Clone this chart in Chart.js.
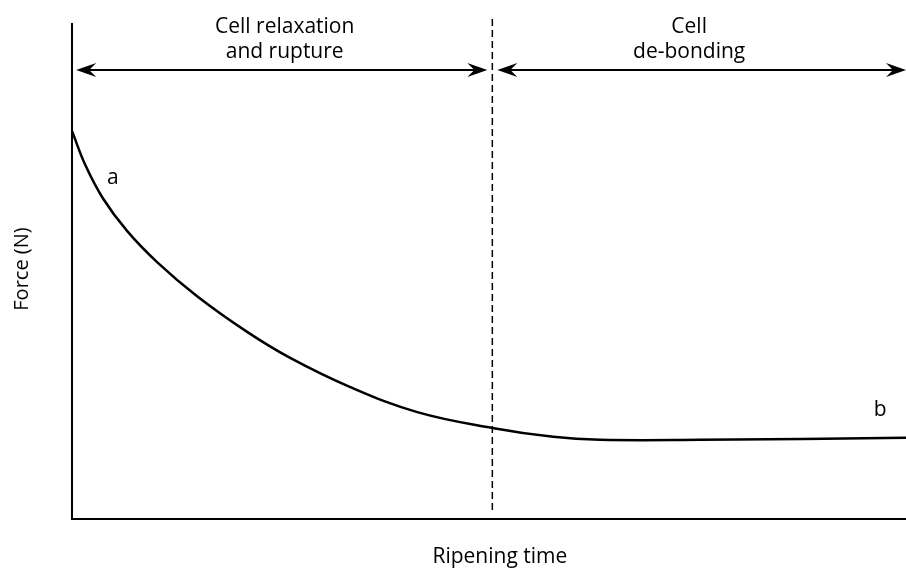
<!DOCTYPE html>
<html>
<head>
<meta charset="utf-8">
<title>Force vs ripening time</title>
<script src="https://cdn.jsdelivr.net/npm/chart.js@4/dist/chart.umd.min.js"></script>
<style>
  html, body { margin: 0; padding: 0; background: #fff; }
  #wrap { width: 906px; height: 574px; }
</style>
</head>
<body>
<div id="wrap"><canvas id="grafico" width="906" height="574"></canvas></div>
<script>
// ripening time (arbitrary units, 0-100) and force (arbitrary units, 0-100)
const ripeningTime = [0, 1.6, 3.7, 6.6, 10.2, 15.0, 21.0, 26.1, 33.3, 41.4, 50.4, 57.7, 63.3, 75.3, 100];
const force = [78.4, 71.5, 64.8, 58.2, 51.9, 45.0, 37.8, 32.6, 26.7, 21.6, 18.4, 16.6, 16.0, 16.0, 16.4];

// end of relaxation/rupture phase, start of de-bonding
const phaseBoundary = 50.4;
const phaseLabels = [["Cell relaxation", "and rupture"], ["Cell", "de-bonding"]];
const curveLabels = ["a", "b"];
const xTitle = "Ripening time";
const yTitle = "Force (N)";

const textFont = '"Open Sans", sans-serif';

function arrowHead(ctx, tx, y, dir) {
    // dir = -1 points left, 1 points right
    const len = 20, hw = 7;
    ctx.beginPath();
    ctx.moveTo(tx, y);
    ctx.lineTo(tx - dir * len, y - hw);
    ctx.lineTo(tx - dir * len * 0.65, y);
    ctx.lineTo(tx - dir * len, y + hw);
    ctx.closePath();
    ctx.fill();
}

const notas = {
    id: "notas",
    afterDatasetsDraw(chart) {
        const ctx = chart.ctx;
        const x = chart.scales.x;
        const y = chart.scales.y;
        const xb = x.getPixelForValue(phaseBoundary);
        const ya = y.getPixelForValue(90.7);

        ctx.save();
        ctx.strokeStyle = "#000";
        ctx.fillStyle = "#000";

        // dashed boundary
        ctx.lineWidth = 1.5;
        ctx.setLineDash([7, 4]);
        ctx.beginPath();
        ctx.moveTo(xb, y.getPixelForValue(101));
        ctx.lineTo(xb, y.getPixelForValue(1.5));
        ctx.stroke();
        ctx.setLineDash([]);

        // double arrows
        const l1 = x.getPixelForValue(0.5);
        const r1 = x.getPixelForValue(phaseBoundary - 0.6);
        const l2 = x.getPixelForValue(phaseBoundary + 0.6);
        const r2 = x.getPixelForValue(100);
        ctx.lineWidth = 2;
        ctx.beginPath();
        ctx.moveTo(l1 + 10, ya);
        ctx.lineTo(r1 - 10, ya);
        ctx.moveTo(l2 + 10, ya);
        ctx.lineTo(r2 - 10, ya);
        ctx.stroke();
        arrowHead(ctx, l1, ya, -1);
        arrowHead(ctx, r1, ya, 1);
        arrowHead(ctx, l2, ya, -1);
        arrowHead(ctx, r2, ya, 1);

        // phase labels
        ctx.font = "21px " + textFont;
        ctx.textAlign = "center";
        ctx.textBaseline = "alphabetic";
        const cx = [x.getPixelForValue(25.5), x.getPixelForValue(74)];
        phaseLabels.forEach((lines, i) => {
            lines.forEach((t, j) => {
                ctx.fillText(t, cx[i], y.getPixelForValue(98.2) + j * 25);
            });
        });

        // curve labels
        ctx.textBaseline = "middle";
        ctx.fillText(curveLabels[0], x.getPixelForValue(4.9), y.getPixelForValue(68.9));
        ctx.fillText(curveLabels[1], x.getPixelForValue(96.9), y.getPixelForValue(22));

        // axis titles
        ctx.font = "21px " + textFont;
        ctx.fillText(xTitle, x.getPixelForValue(51.3), y.bottom + 38);
        ctx.translate(x.left - 50, y.getPixelForValue(50.5));
        ctx.rotate(-Math.PI / 2);
        ctx.font = "20px " + textFont;
        ctx.fillText(yTitle, 0, 0);
        ctx.restore();
    }
};

const ctx = document.getElementById("grafico").getContext("2d");

new Chart(ctx, {
    type: "line",
    data: {
        datasets: [{
            data: ripeningTime.map((t, i) => ({ x: t, y: force[i] })),
            borderColor: "#000",
            borderWidth: 2.5,
            pointRadius: 0,
            tension: 0.4,
            fill: false
        }]
    },
    options: {
        responsive: false,
        animation: false,
        layout: { padding: { top: 24, left: 0, right: 0, bottom: 0 } },
        plugins: {
            legend: { display: false },
            tooltip: { enabled: false }
        },
        scales: {
            x: {
                type: "linear",
                min: 0,
                max: 100,
                grid: { color: "transparent", drawTicks: false },
                border: { display: true, color: "#000", width: 2 },
                ticks: { display: false },
                afterFit: (s) => { s.height = 55; }
            },
            y: {
                min: 0,
                max: 100,
                grid: { color: "transparent", drawTicks: false },
                border: { display: true, color: "#000", width: 2 },
                ticks: { display: false },
                afterFit: (s) => { s.width = 72; }
            }
        }
    },
    plugins: [notas]
});
</script>
</body>
</html>
